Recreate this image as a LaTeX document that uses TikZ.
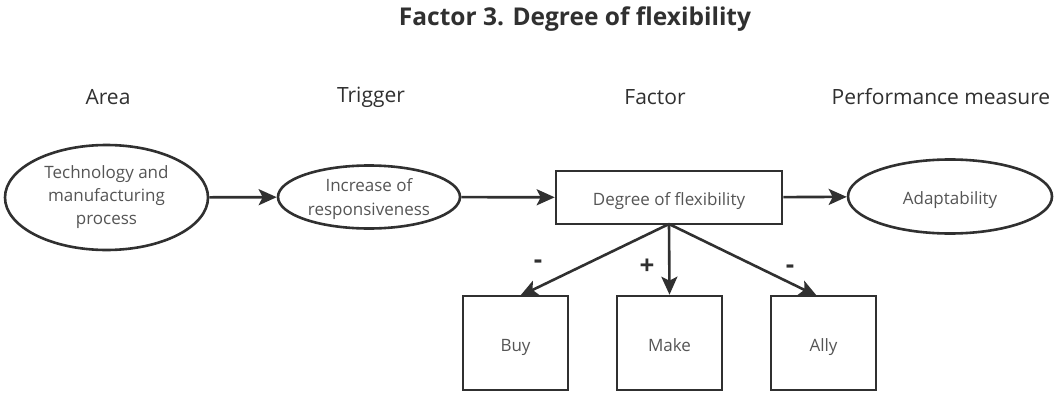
\documentclass[tikz,border=0pt]{standalone}
\usepackage{fontspec}
\setmainfont{Open Sans}
\usetikzlibrary{shapes.geometric,arrows.meta}
\definecolor{ln}{HTML}{303030}
\definecolor{tx}{HTML}{555555}
\begin{document}
\begin{tikzpicture}[x=1pt,y=-1pt,
  ell/.style={ellipse,draw=ln,line width=2.6pt,inner sep=0pt,align=center,text=tx,font=\fontsize{17}{23}\selectfont},
  box/.style={rectangle,draw=ln,line width=2.6pt,inner sep=0pt,align=center,text=tx,font=\fontsize{17}{23}\selectfont},
  low/.style={text height=18pt,text depth=2pt},
  hdr/.style={text=ln,font=\fontsize{21}{24}\selectfont},
  arr/.style={draw=ln,line width=2.6pt,-{Stealth[length=18pt,width=16pt,inset=4pt]}},
  sgn/.style={text=ln,font=\bfseries\fontsize{26}{28}\selectfont}]
\useasboundingbox (0,0) rectangle (1056,396);
\fill[white] (0,0) rectangle (1056,396);
\node[font=\bfseries\fontsize{24.5}{28}\selectfont,text=ln] (title) at (575,19) {Factor 3. Degree of flexibility};
\node[hdr] (h1) at (108,97) {Area};
\node[hdr] (h2) at (371,97) {Trigger};
\node[hdr] (h3) at (655,97) {Factor};
\node[hdr] (h4) at (941,97) {Performance measure};
\node[ell,minimum width=203pt,minimum height=105pt] (tech) at (106.5,197.5) {Technology and\\manufacturing\\process};
\node[ell,minimum width=182pt,minimum height=63pt,text depth=-4pt,font=\fontsize{17}{24.5}\selectfont] (inc) at (369,197) {Increase of\\responsiveness};
\node[box,low,minimum width=226pt,minimum height=53pt] (deg) at (669,197.5) {Degree of flexibility};
\node[ell,low,minimum width=204pt,minimum height=74pt] (ada) at (950,196.5) {Adaptability};
\node[box,low,minimum width=105pt,minimum height=94pt] (buy) at (515.5,343) {Buy};
\node[box,low,minimum width=105pt,minimum height=94pt] (make) at (669.5,343) {Make};
\node[box,low,minimum width=105pt,minimum height=94pt] (ally) at (823.5,343) {Ally};
\draw[arr] (tech) -- (inc);
\draw[arr] (inc) -- (deg);
\draw[arr] (deg) -- (ada);
\coordinate (bt) at (669,224);
\coordinate (buyt) at (520,296);
\coordinate (allyt) at (817,296);
\draw[arr] (bt) -- (buyt);
\draw[arr] (bt) -- (make.north);
\draw[arr] (bt) -- (allyt);
\node[sgn] (m1) at (538,264) {-};
\node[sgn] (p1) at (647,267) {+};
\node[sgn] (m2) at (790,269) {-};
\end{tikzpicture}
\end{document}
